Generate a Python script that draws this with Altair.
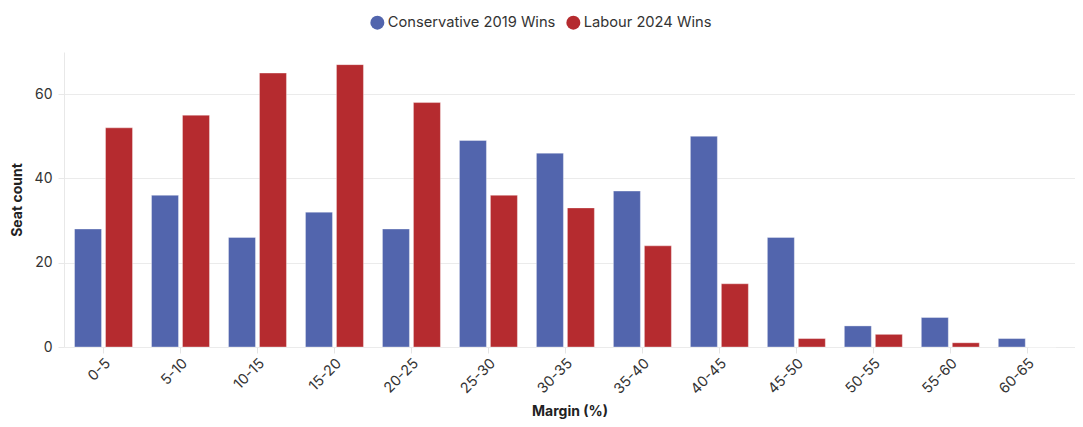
import altair as alt
import pandas as pd

margins = ["0-5", "5-10", "10-15", "15-20", "20-25", "25-30", "30-35",
           "35-40", "40-45", "45-50", "50-55", "55-60", "60-65"]
con_2019 = [28, 36, 26, 32, 28, 49, 46, 37, 50, 26, 5, 7, 2]
lab_2024 = [52, 55, 65, 67, 58, 36, 33, 24, 15, 2, 3, 1, 0]
series = ["Conservative 2019 Wins", "Labour 2024 Wins"]
colors = ["#5265ad", "#b52b2f"]

rows = []
for m, c, l in zip(margins, con_2019, lab_2024):
    rows.append({"Margin": m, "Series": series[0], "Seats": c})
    rows.append({"Margin": m, "Series": series[1], "Seats": l})
df = pd.DataFrame(rows)

FONT = "Inter"

chart = alt.Chart(df).mark_bar(
    stroke="white", strokeOpacity=0.35, strokeWidth=1
).encode(
    x=alt.X("Margin:N", sort=margins,
            scale=alt.Scale(paddingInner=0.247, paddingOuter=0.19, align=0.36),
            axis=alt.Axis(title="Margin (%)", labelAngle=-45, labelFontSize=14.5,
                          labelColor="#333333", labelFont=FONT,
                          titleFont=FONT, titleFontSize=14, titleFontWeight="bold",
                          titleColor="#222222", titleBaseline="alphabetic", titleY=68,
                          tickColor="#e4e4e4", tickSize=6, domain=False, grid=False,
                          labelPadding=3)),
    xOffset=alt.XOffset("Series:N", sort=series,
                        scale=alt.Scale(paddingInner=0.129, paddingOuter=0)),
    y=alt.Y("Seats:Q", scale=alt.Scale(domain=[0, 70], nice=False),
            axis=alt.Axis(title="Seat count", values=[0, 20, 40, 60],
                          labelFontSize=14, labelColor="#333333", labelFont=FONT,
                          titleFont=FONT, titleFontSize=14, titleFontWeight="bold",
                          titleColor="#222222", titlePadding=10,
                          tickColor="#e8e8e8", tickSize=6, labelPadding=6,
                          domain=True, domainColor="#e8e8e8",
                          gridColor="#ebebeb")),
    color=alt.Color("Series:N", sort=series,
                    scale=alt.Scale(domain=series, range=colors),
                    legend=alt.Legend(title=None, orient="none", direction="horizontal",
                                      legendX=306, legendY=-37, symbolType="circle",
                                      symbolSize=196, symbolOpacity=1, labelFont=FONT,
                                      labelFontSize=14.7, labelColor="#333333",
                                      labelOffset=3, columnPadding=10, labelLimit=400,
                                      symbolStrokeWidth=0, padding=0)),
).properties(
    width=1011, height=295,
    background="white",
    padding={"left": 56, "top": 44, "right": 0, "bottom": 72},
    autosize=alt.AutoSizeParams(type="none"),
).configure_view(stroke=None)

chart.save("out.html", embed_options={"renderer": "svg", "actions": False})
